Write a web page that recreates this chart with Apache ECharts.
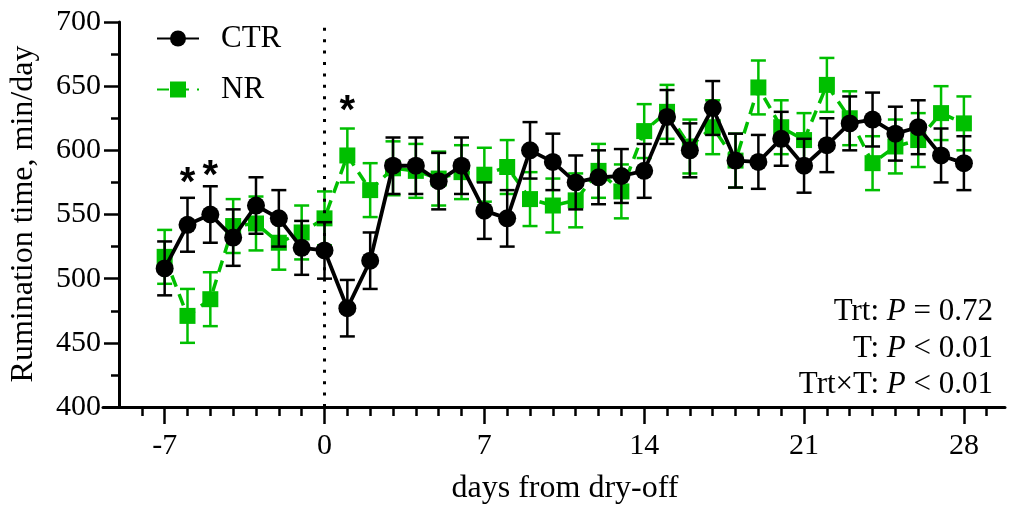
<!DOCTYPE html>
<html><head><meta charset="utf-8">
<script src="https://cdn.jsdelivr.net/npm/echarts@6.0.0/dist/echarts.min.js"></script>
<style>html,body{margin:0;padding:0;background:#fff}#c{width:1010px;height:508px}</style>
</head><body><div id="c"></div>
<script>
const days = [-7,-6,-5,-4,-3,-2,-1,0,1,2,3,4,5,6,7,8,9,10,11,12,13,14,15,16,17,18,19,20,21,22,23,24,25,26,27,28];
const ctrMean = [508,542,550,532,557,547,524,522,477,514,588,588,576,588,553,547,600,591,575,579,580,584,626,600,633,592,591,609,588,604,621,624,613,618,596,590];
const ctrSem  = [21,21,22,22,22,22,21,22,22,22,22,22,22,22,22,22,22,22,21,21,21,21,21,21,21,21,21,21,21,21,21,21,21,21,21,21];
const nrMean  = [517,471,484,541,543,528,536,547,596,569,586,584,578,583,581,587,562,557,561,584,568,615,630,603,618,592,649,618,608,651,625,590,603,608,629,621];
const nrSem   = [21,21,21,21,21,21,21,21,21,21,21,21,21,21,21,21,21,21,21,21,21,21,21,21,21,21,21,21,21,21,21,21,21,21,21,21];
const xTickDays = [-8,-7,-6,-5,-4,-3,-2,-1,0,1,2,3,4,5,6,7,8,9,10,11,12,13,14,15,16,17,18,19,20,21,22,23,24,25,26,27,28,29];
const xLabelDays = [-7,0,7,14,21,28];
const sigDays = [-6,-5,1];
const sigY = [579,585,635];
const statLabels = ['Trt: ','T: ','Trt\u00d7T: '];
const statValues = [' = 0.72',' < 0.01',' < 0.01'];

const SERIF = '"Liberation Serif","Times New Roman",serif';
const SANS = '"Liberation Sans",Arial,sans-serif';
const GREEN = '#00bf00';

function errBars(mean, sem, color, z) {
  return {
    type: 'custom', z: z, silent: true, animation: false,
    data: days.map((d, i) => [d, mean[i], sem[i]]),
    encode: { x: 0, y: 1 },
    renderItem(params, api) {
      const x = api.value(0), m = api.value(1), s = api.value(2);
      const t = api.coord([x, m + s]), b = api.coord([x, m - s]);
      const hw = 7.5, st = { stroke: color, lineWidth: 2.5 };
      return { type: 'group', children: [
        { type: 'line', shape: { x1: t[0], y1: t[1], x2: b[0], y2: b[1] }, style: st },
        { type: 'line', shape: { x1: t[0] - hw, y1: t[1], x2: t[0] + hw, y2: t[1] }, style: st },
        { type: 'line', shape: { x1: b[0] - hw, y1: b[1], x2: b[0] + hw, y2: b[1] }, style: st }
      ]};
    }
  };
}

const chart = echarts.init(document.getElementById('c'), null, { renderer: 'canvas' });
const statGraphics = statLabels.map((lab, i) => ({
  type: 'text', x: 993, y: 312 + i * 36.5,
  style: {
    text: '{a|' + lab + '}{b|P}{a|' + statValues[i] + '}',
    align: 'right', verticalAlign: 'middle',
    rich: {
      a: { fontSize: 31, fontFamily: SERIF, fill: '#000' },
      b: { fontSize: 31, fontFamily: SERIF, fontStyle: 'italic', fill: '#000' }
    }
  }
}));

chart.setOption({
  animation: false,
  backgroundColor: '#fff',
  grid: { left: 103, right: 5, top: 22, bottom: 101, containLabel: false },
  legend: {
    orient: 'vertical', left: 151, top: 18, itemWidth: 42, itemHeight: 20, itemGap: 20,
    data: ['CTR', 'NR'],
    textStyle: { fontSize: 31, fontFamily: SERIF, color: '#000', padding: [0, 0, 0, 17] }
  },
  xAxis: [
    { type: 'value', min: -9.7, max: 29.8, position: 'bottom',
      axisLine: { show: true, onZero: false, lineStyle: { color: '#000', width: 3 } },
      axisTick: { show: true, customValues: xTickDays, length: 9, lineStyle: { color: '#000', width: 2.5 } },
      axisLabel: { show: false }, splitLine: { show: false } },
    { type: 'value', min: -9.7, max: 29.8, position: 'bottom',
      axisLine: { show: false, onZero: false },
      axisTick: { show: true, customValues: xLabelDays, length: 17, lineStyle: { color: '#000', width: 2.5 } },
      axisLabel: { show: true, customValues: xLabelDays, fontSize: 30, fontFamily: SERIF, color: '#000', margin: 24 },
      splitLine: { show: false } }
  ],
  yAxis: {
    type: 'value', min: 400, max: 700, interval: 50, offset: -16,
    axisLine: { show: true, onZero: false, lineStyle: { color: '#000', width: 3 } },
    axisTick: { show: true, length: 15, lineStyle: { color: '#000', width: 2.5 } },
    minorTick: { show: true, splitNumber: 2, length: 8, lineStyle: { color: '#000', width: 2.5 } },
    axisLabel: { fontSize: 30, fontFamily: SERIF, color: '#000', margin: 18 },
    splitLine: { show: false }
  },
  graphic: [
    { type: 'text', x: 24, y: 214, rotation: Math.PI / 2,
      style: { text: 'Rumination time, min/day', fontSize: 32, fontFamily: SERIF, fill: '#000', align: 'center', verticalAlign: 'middle' } },
    { type: 'text', x: 565, y: 489,
      style: { text: 'days from dry-off', fontSize: 32, fontFamily: SERIF, fill: '#000', align: 'center', verticalAlign: 'middle' } }
  ].concat(statGraphics),
  series: [
    errBars(nrMean, nrSem, GREEN, 2),
    { name: 'NR', type: 'line', z: 3, data: days.map((d, i) => [d, nrMean[i]]),
      symbol: 'rect', symbolSize: 16, showAllSymbol: true,
      itemStyle: { color: GREEN }, lineStyle: { color: GREEN, width: 3.5, type: [12, 8] } },
    errBars(ctrMean, ctrSem, '#000', 4),
    { name: 'CTR', type: 'line', z: 5, data: days.map((d, i) => [d, ctrMean[i]]),
      symbol: 'circle', symbolSize: 18, showAllSymbol: true,
      itemStyle: { color: '#000' }, lineStyle: { color: '#000', width: 3.8 },
      markLine: { silent: true, symbol: ['none', 'none'], label: { show: false },
        lineStyle: { color: '#000', width: 3, type: [3, 8.4] },
        emphasis: { disabled: true },
        data: [{ xAxis: 0 }] } },
    { name: 'sig', type: 'scatter', z: 6, symbolSize: 0, silent: true,
      itemStyle: { opacity: 1 },
      data: sigDays.map((d, i) => [d, sigY[i]]),
      label: { show: true, position: 'inside', formatter: '*', fontSize: 40, fontWeight: 'bold', fontFamily: SANS, color: '#000', offset: [0, 7] } }
  ]
});
</script></body></html>
